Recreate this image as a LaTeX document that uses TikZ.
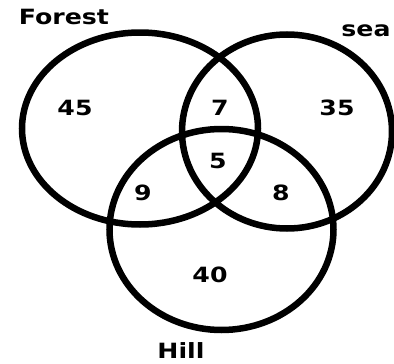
\documentclass[tikz,border=0pt]{standalone}
\usepackage{fontspec}
\setmainfont{DejaVu Sans}
\newcommand{\vtxt}[1]{\scalebox{1.2}[1]{\bfseries\fontsize{21}{23}\selectfont #1}}
\tikzset{
  ring/.style={line width=6.5pt, draw=black},
  lbl/.style={anchor=base, inner sep=0pt, text=black}
}
\begin{document}
\begin{tikzpicture}[x=1pt,y=-1pt]
\useasboundingbox (0,0) rectangle (394,364);
\coordinate (cF) at (140,128.5);
\coordinate (cS) at (287,131.5);
\coordinate (cH) at (221.5,229.5);
\draw[ring] (cF) ellipse [x radius=118, y radius=96];
\draw[ring] (cS) ellipse [x radius=105, y radius=97];
\draw[ring] (cH) ellipse [x radius=112, y radius=100.5];
\node[lbl] (forest) at (64,24) {\vtxt{Forest}};
\node[lbl] (sea) at (366,36) {\vtxt{sea}};
\node[lbl] (hill) at (181,358) {\vtxt{Hill}};
\node[lbl] (n45) at (75,115) {\vtxt{45}};
\node[lbl] (n7) at (220,115) {\vtxt{7}};
\node[lbl] (n35) at (337,115) {\vtxt{35}};
\node[lbl] (n5) at (218,168) {\vtxt{5}};
\node[lbl] (n9) at (143,200) {\vtxt{9}};
\node[lbl] (n8) at (281,200) {\vtxt{8}};
\node[lbl] (n40) at (210,282) {\vtxt{40}};
\end{tikzpicture}
\end{document}
